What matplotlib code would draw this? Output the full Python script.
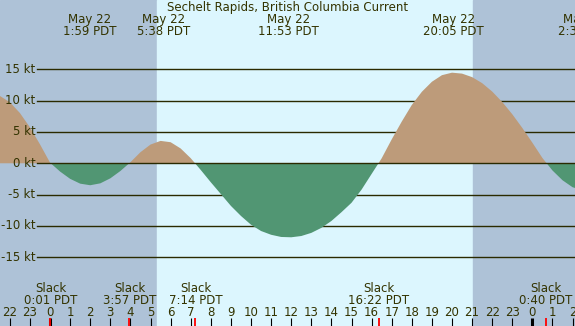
import matplotlib
matplotlib.use("Agg")
from matplotlib import pyplot as plt
import numpy as np

# current speed (kt) every half hour, hours from midnight May 22
hours = np.arange(-2.5, 27.0, 0.5)
speed = [10.75, 9.73, 8.02, 5.73, 3.02, 0.10, -1.32, -2.48, -3.25, -3.50,
         -3.20, -2.40, -1.23, 0.17, 1.77, 2.99, 3.57, 3.36, 2.36, 0.81,
         -1.07, -3.03, -4.91, -6.8, -8.4, -9.8, -10.8, -11.4, -11.75, -11.8,
         -11.6, -11.1, -10.3, -9.2, -7.8, -6.3, -4.2, -1.7, 0.79, 3.81,
         6.65, 9.3, 11.4, 13.0, 14.05, 14.45, 14.3, 13.74, 12.78, 11.44,
         9.77, 7.82, 5.63, 3.28, 0.84, -1.15, -2.71, -3.82, -4.29]

slack_times = ["0:01", "3:57", "7:14", "16:22", "0:40"]
slack_day = [0, 0, 0, 0, 1]
max_times = ["1:59", "5:38", "11:53", "20:05", "2:36"]
max_day = [0, 0, 0, 0, 1]
max_dates = ["May 22", "May 22", "May 22", "May 22", "May 23"]
sunrise, sunset = 5.32, 21.05
hour_ticks = list(range(-2, 27))
levels = [15, 10, 5, 0, -5, -10, -15]

title = "Sechelt Rapids, British Columbia Current"


def to_hours(s, day):
    h, m = s.split(":")
    return int(h) + int(m) / 60 + 24 * day


night = "#aec2d7"
day_c = "#dcf6fe"
flood = "#bd9b7a"
ebb = "#519673"
ink = "#333300"
line_c = "#2a2a00"

W, H = 575, 326
fig = plt.figure(figsize=(W / 100, H / 100), dpi=100)
ax = fig.add_axes([0, 0, 1, 1])
x0, x1 = -2.49, 26.12
ax.set_xlim(x0, x1)
ax.set_ylim(-25.95, 26.04)
ax.axis("off")

ax.axvspan(x0, sunrise, color=night, zorder=0)
ax.axvspan(sunrise, sunset, color=day_c, zorder=0)
ax.axvspan(sunset, x1, color=night, zorder=0)

# level lines start just right of the labels
lx = x0 + 37 / W * (x1 - x0)
for lv in levels:
    if lv != 0:
        ax.plot([lx, x1], [lv, lv], color=line_c, lw=1.0, zorder=1)
    ax.text(lx - 0.08, lv, f"{lv} kt", ha="right", va="center",
            fontsize=8.5, color=ink, zorder=5)

sp = np.array(speed)
ax.fill_between(hours, 0, sp, where=sp >= 0, interpolate=True,
                color=flood, lw=0, zorder=2)
ax.fill_between(hours, 0, sp, where=sp <= 0, interpolate=True,
                color=ebb, lw=0, zorder=2)
ax.plot([lx, x1], [0, 0], color=line_c, lw=1.0, zorder=3)

tr = ax.get_xaxis_transform()
ax.text(0.5, 1 - 7.5 / H, title, transform=ax.transAxes, ha="center",
        va="center", fontsize=8.5, color=ink)
for t, d, lab in zip(max_times, max_day, max_dates):
    h = to_hours(t, d)
    ax.text(h, 1 - 19 / H, lab, transform=tr, ha="center", va="center",
            fontsize=8.5, color=ink)
    ax.text(h, 1 - 31.5 / H, t + " PDT", transform=tr, ha="center",
            va="center", fontsize=8.5, color=ink)

for t, d in zip(slack_times, slack_day):
    h = to_hours(t, d)
    ax.text(h, 1 - 288 / H, "Slack", transform=tr, ha="center",
            va="center", fontsize=8.5, color=ink)
    ax.text(h, 1 - 300 / H, t + " PDT", transform=tr, ha="center",
            va="center", fontsize=8.5, color=ink)

for hr in hour_ticks:
    ax.text(hr, 1 - 312 / H, str(hr % 24), transform=tr, ha="center",
            va="center", fontsize=8.5, color=ink)
    lw = 2.2 if hr % 24 == 0 else 0.8
    ax.vlines(hr, 0, 8 / H, transform=tr, color="black", lw=lw, zorder=4)
for t, d in zip(slack_times, slack_day):
    ax.vlines(to_hours(t, d), 0, 8 / H, transform=tr, color="#ff0000",
              lw=1.3, zorder=5)

fig.savefig("out.png", dpi=100)
